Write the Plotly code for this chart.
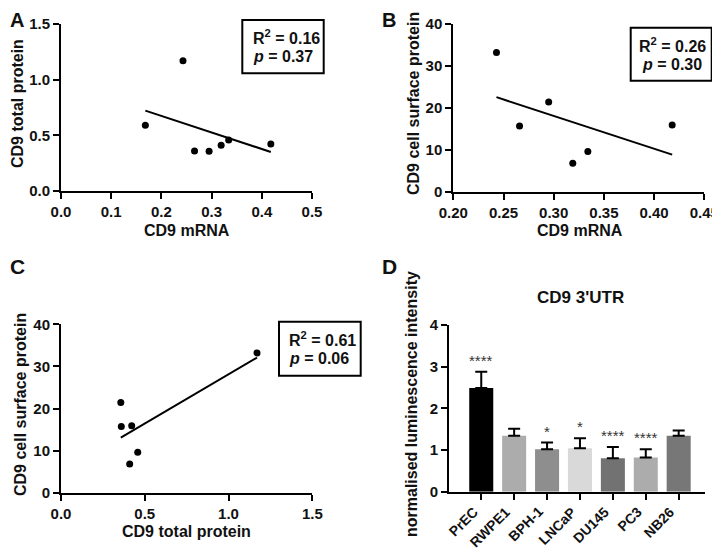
import numpy as np
import plotly.graph_objects as go

# ---------------- data ----------------
mrna = [0.168, 0.243, 0.266, 0.295, 0.319, 0.334, 0.418]
total_protein = [0.59, 1.17, 0.36, 0.357, 0.41, 0.458, 0.422]
surface_protein = [None, 33.2, 15.7, 21.4, 6.8, 9.6, 15.9]

stats_A = ["R<sup>2</sup> = 0.16", "<i>p</i> = 0.37"]
stats_B = ["R<sup>2</sup> = 0.26", "<i>p</i> = 0.30"]
stats_C = ["R<sup>2</sup> = 0.61", "<i>p</i> = 0.06"]

cell_lines = ["PrEC", "RWPE1", "BPH-1", "LNCaP", "DU145", "PC3", "NB26"]
luminescence = [2.49, 1.34, 1.02, 1.04, 0.80, 0.82, 1.34]
luminescence_sem = [0.39, 0.17, 0.16, 0.24, 0.27, 0.20, 0.13]
significance = ["****", "", "*", "*", "****", "****", ""]
bar_colors = ["#000000", "#acacac", "#8e8e8e", "#d9d9d9", "#727272", "#acacac", "#777777"]

# the page body has an 8px default margin; size the figure so it fills the window
OFF = 8
W, H = 720 - OFF, 551 - OFF
FONT = "Liberation Sans, Arial, sans-serif"


def px(x):
    return (x - OFF) / W


def py(y):
    return 1 - (y - OFF) / H


def pairs(xs, ys):
    out = [(a, b) for a, b in zip(xs, ys) if a is not None and b is not None]
    return [p[0] for p in out], [p[1] for p in out]


def fit_line(xs, ys):
    xa, ya = np.array(xs, float), np.array(ys, float)
    m, c = np.polyfit(xa, ya, 1)
    xl = np.array([xa.min(), xa.max()])
    return xl, m * xl + c


fig = go.Figure()

panels = [
    ("x", "y", mrna, total_protein),
    ("x2", "y2", mrna, surface_protein),
    ("x3", "y3", total_protein, surface_protein),
]
for xa, ya, xs, ys in panels:
    xv, yv = pairs(xs, ys)
    lx, ly = fit_line(xv, yv)
    fig.add_trace(go.Scatter(x=lx, y=ly, mode="lines", xaxis=xa, yaxis=ya,
                             line=dict(color="black", width=2), showlegend=False,
                             hoverinfo="skip"))
    fig.add_trace(go.Scatter(x=xv, y=yv, mode="markers", xaxis=xa, yaxis=ya,
                             marker=dict(color="black", size=7), showlegend=False))

fig.add_trace(go.Bar(
    x=cell_lines, y=luminescence, xaxis="x4", yaxis="y4",
    marker=dict(color=bar_colors, line=dict(width=0)), width=0.73,
    error_y=dict(type="data", array=luminescence_sem, arrayminus=[0] * len(cell_lines),
                 symmetric=False, color="black", thickness=2, width=6),
    showlegend=False))

TICKFONT = dict(family=FONT, size=15, color="#111", weight="bold")
axis_common = dict(showline=True, linecolor="black", linewidth=2, ticks="outside",
                   ticklen=6, tickwidth=2, tickcolor="black", showgrid=False,
                   zeroline=False, mirror=False, tickfont=TICKFONT, automargin=False)


def ax(**kw):
    d = dict(axis_common)
    d.update(kw)
    return d


fig.update_layout(
    width=W, height=H, margin=dict(l=0, r=0, t=0, b=0, pad=0), autosize=False,
    paper_bgcolor="white", plot_bgcolor="white",
    xaxis=ax(domain=[px(61), px(312)], range=[0, 0.5], tickvals=[0, 0.1, 0.2, 0.3, 0.4, 0.5],
             tickformat=".1f", anchor="y"),
    yaxis=ax(domain=[py(191), py(24)], range=[0, 1.5], tickvals=[0, 0.5, 1.0, 1.5],
             tickformat=".1f", anchor="x"),
    xaxis2=ax(domain=[px(453.3), px(704.3)], range=[0.2, 0.45],
              tickvals=[0.2, 0.25, 0.3, 0.35, 0.4, 0.45], tickformat=".2f", anchor="y2"),
    yaxis2=ax(domain=[py(191.7), py(24)], range=[0, 40], tickvals=[0, 10, 20, 30, 40],
              anchor="x2"),
    xaxis3=ax(domain=[px(61), px(312.3)], range=[0, 1.5], tickvals=[0, 0.5, 1.0, 1.5],
              tickformat=".1f", anchor="y3"),
    yaxis3=ax(domain=[py(492.7), py(324.3)], range=[0, 40], tickvals=[0, 10, 20, 30, 40],
              anchor="x3"),
    xaxis4=ax(domain=[px(449), px(705)], range=[-0.98, 6.8], showticklabels=False,
              anchor="y4"),
    yaxis4=ax(domain=[py(491.7), py(325)], range=[0, 4], tickvals=[0, 1, 2, 3, 4],
              anchor="x4"),
)

ann = []


def text(x, y, t, size=16, angle=0, xanchor="center", yanchor="middle", align="center"):
    ann.append(dict(x=px(x), y=py(y), xref="paper", yref="paper", text=t, showarrow=False,
                    textangle=angle, xanchor=xanchor, yanchor=yanchor, align=align,
                    font=dict(family=FONT, size=size, color="#111", weight="bold")))


# panel letters
text(17, 20, "A", size=20)
text(389, 20, "B", size=20)
text(17, 266, "C", size=21)
text(389, 266, "D", size=21)

# axis titles
text(187, 230, "CD9 mRNA")
text(17, 104, "CD9 total protein", angle=-90)
text(580, 230, "CD9 mRNA")
text(413, 104, "CD9 cell surface protein", angle=-90)
text(187, 531, "CD9 total protein")
text(20, 405, "CD9 cell surface protein", angle=-90)
text(411, 404, "normalised luminescence intensity", angle=-90)
text(580, 297, "CD9 3'UTR", size=17)

# rotated category labels for panel D
for cat in cell_lines:
    ann.append(dict(x=cat, y=py(501), xref="x4", yref="paper", text=cat, showarrow=False,
                    textangle=-45, xanchor="right", yanchor="top", xshift=2,
                    font=dict(family=FONT, size=14, color="#111", weight="bold")))

# stats boxes
boxes = [
    ((242.3, 20, 323.7, 73.3), stats_A, 251, "left"),
    ((630.7, 27.7, 711.7, 80.7), stats_B, 672, "center"),
    ((279, 321.7, 360.7, 375.7), stats_C, 287, "left"),
]
shapes = []
for (x0, y0, x1, y1), st, tx, al in boxes:
    shapes.append(dict(type="rect", xref="paper", yref="paper", x0=px(x0), x1=px(x1),
                       y0=py(y0), y1=py(y1), line=dict(color="black", width=2)))
    cy = (y0 + y1) / 2
    xa = "left" if al == "left" else "center"
    text(tx, cy - 9.5, st[0], size=16, xanchor=xa)
    text(tx, cy + 10, st[1], size=16, xanchor=xa)

# significance asterisks
for cat, m, e, s in zip(cell_lines, luminescence, luminescence_sem, significance):
    if s:
        ann.append(dict(x=cat, y=m + e, xref="x4", yref="y4", text=s, showarrow=False,
                        yanchor="bottom", yshift=1,
                        font=dict(family=FONT, size=15, color="#333")))

fig.update_layout(annotations=ann, shapes=shapes)
fig.write_html("out.html")
